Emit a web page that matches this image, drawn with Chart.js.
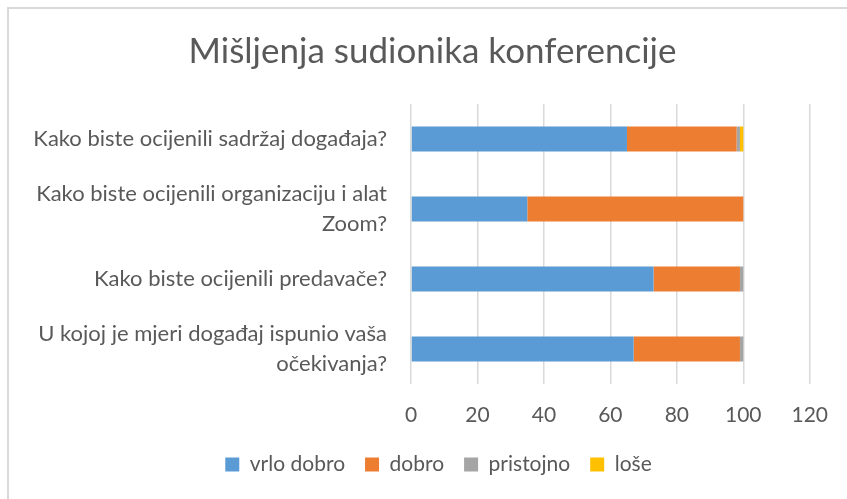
<!DOCTYPE html>
<html lang="hr">
<head>
  <meta charset="UTF-8">
  <title>Mišljenja sudionika konferencije</title>
  <script src="https://cdn.jsdelivr.net/npm/chart.js"></script>
  <style>
    body { margin: 0; background: #fff; overflow: hidden; }
    #wrap { position: absolute; left: 0; top: 0; width: 847px; height: 499px; overflow: hidden; }
    #frame { position: absolute; left: 7px; top: 7px; width: 860px; height: 520px; border-left: 2px solid #d9d9d9; border-top: 2px solid #d9d9d9; pointer-events: none; }
  </style>
</head>
<body>
  <div id="wrap">
    <canvas id="chart" width="847" height="499"></canvas>
    <div id="frame"></div>
  </div>
  <script>
    // pitanja (odozgo prema dolje)
    const categories = [
      'Kako biste ocijenili sadržaj događaja?',
      ['Kako biste ocijenili organizaciju i alat', 'Zoom?'],
      'Kako biste ocijenili predavače?',
      ['U kojoj je mjeri događaj ispunio vaša', 'očekivanja?']
    ];
    const seriesNames = ['vrlo dobro', 'dobro', 'pristojno', 'loše'];
    const vrloDobro = [65, 35, 73, 67];
    const dobro = [33, 65, 26, 32];
    const pristojno = [1, 0, 1, 1];
    const lose = [1, 0, 0, 0];
    const xTicks = [0, 20, 40, 60, 80, 100, 120];

    const colors = ['#5b9bd5', '#ed7d31', '#a5a5a5', '#ffc000'];
    const values = [vrloDobro, dobro, pristojno, lose];
    const font = "Lato, 'Open Sans', sans-serif";

    // naslov i legenda su u originalu malo pomaknuti udesno
    const shiftBlocks = {
      id: 'shiftBlocks',
      afterLayout(chart) {
        if (chart.titleBlock) { chart.titleBlock.left += 17; chart.titleBlock.right += 17; }
        if (chart.legend) { chart.legend.left += 23; chart.legend.right += 23; }
      }
    };

    const ctx = document.getElementById('chart').getContext('2d');
    new Chart(ctx, {
      type: 'bar',
      data: {
        labels: categories,
        datasets: seriesNames.map((name, i) => ({
          label: name,
          data: values[i],
          backgroundColor: colors[i],
          borderWidth: 0,
          barPercentage: 0.36,
          categoryPercentage: 1
        }))
      },
      options: {
        indexAxis: 'y',
        responsive: false,
        animation: false,
        layout: { padding: { left: 20, right: 36, top: 20, bottom: 14 } },
        plugins: {
          title: {
            display: true,
            text: 'Mišljenja sudionika konferencije',
            color: '#595959',
            font: { family: font, size: 35, weight: 'normal' },
            padding: { top: 11, bottom: 31 }
          },
          legend: {
            position: 'bottom',
            labels: {
              color: '#595959',
              font: { family: font, size: 21 },
              boxWidth: 14,
              boxHeight: 14,
              padding: 20
            }
          },
          tooltip: { enabled: false }
        },
        scales: {
          x: {
            stacked: true,
            min: 0,
            max: 120,
            afterBuildTicks: axis => { axis.ticks = xTicks.map(v => ({ value: v })); },
            afterFit: axis => { axis.height = 50; },
            ticks: { color: '#595959', font: { family: font, size: 21 }, padding: 19 },
            grid: { color: '#d9d9d9', lineWidth: 1.5, drawTicks: false },
            border: { display: false }
          },
          y: {
            stacked: true,
            afterFit: axis => { axis.width = 391; },
            ticks: { color: '#595959', font: { family: font, size: 22, lineHeight: 1.4 }, padding: 16 },
            grid: { display: false },
            border: { display: false }
          }
        }
      },
      plugins: [shiftBlocks]
    });
  </script>
</body>
</html>
